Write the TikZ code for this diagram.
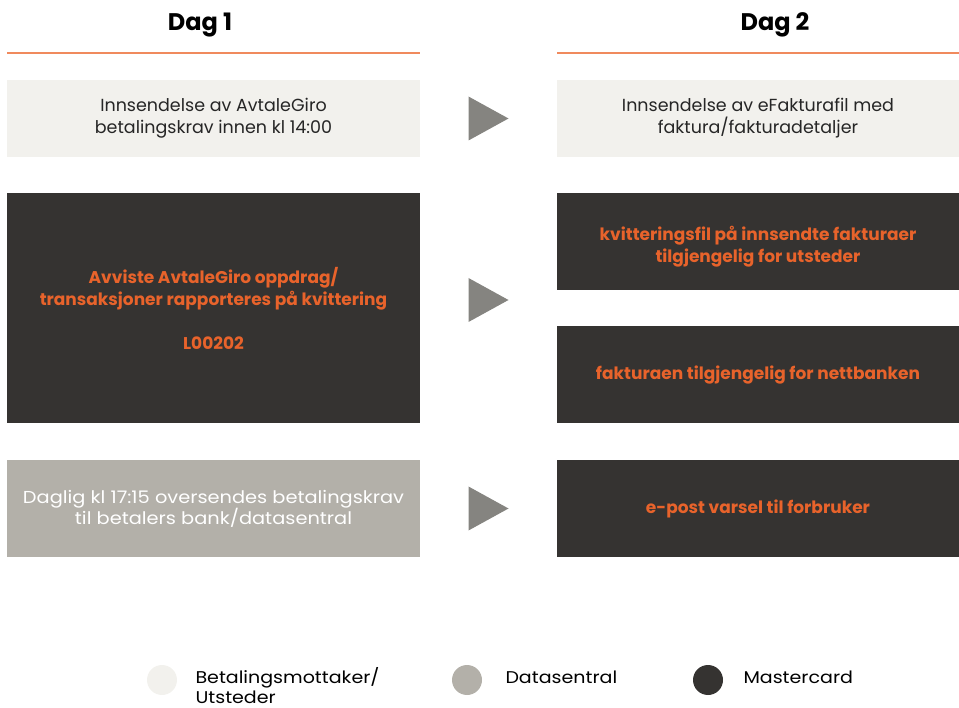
\documentclass[tikz,border=0pt]{standalone}
\usepackage{fontspec}
\setmainfont{Poppins}
\newfontfamily\widefont[FakeStretch=1.12]{Poppins}
\usetikzlibrary{calc}
\definecolor{mclight}{HTML}{F2F1ED}
\definecolor{mcgrey}{HTML}{B3B0A9}
\definecolor{mcdark}{HTML}{353331}
\definecolor{mcorange}{HTML}{E8632B}
\definecolor{mcline}{HTML}{F08A5D}
\definecolor{mcarrow}{HTML}{858480}
\begin{document}
\begin{tikzpicture}
			[x=1pt, y=-1pt,
			box/.style={minimum height=97pt, align=center, inner sep=0pt, font=\fontsize{17.5}{22}\selectfont},
			lbox/.style={box, fill=mclight, text=black!85, minimum width=413pt},
			rbox/.style={box, minimum width=402pt},
			dbox/.style={fill=mcdark, text=mcorange, font=\fontsize{17}{22}\selectfont\bfseries},
			gbox/.style={fill=mcgrey, text=white, font=\widefont\fontsize{17.3}{21}\selectfont},
			tri/.style={fill=mcarrow},
			dot/.style={circle, minimum size=30pt, inner sep=0pt},
			legend/.style={anchor=west, align=left, font=\widefont\fontsize{17}{20}\selectfont}]
			\useasboundingbox (0,0) rectangle (959,708);
			% headers
			\node[font=\fontsize{24}{26}\selectfont\bfseries] (d1) at (200,25) {Dag 1};
			\node[font=\fontsize{24}{26}\selectfont\bfseries] (d2) at (775,25) {Dag 2};
			\draw[mcline, line width=2pt] (7,53) -- (420,53);
			\draw[mcline, line width=2pt] (557,53) -- (959,53);
			% row 1
			\node[lbox, minimum height=77pt] (a1) at (213.5,118.5) {Innsendelse av AvtaleGiro\\betalingskrav innen kl 14:00};
			\node[rbox, lbox, minimum width=402pt, minimum height=77pt] (b1) at (758,118.5) {Innsendelse av eFakturafil med\\faktura/fakturadetaljer};
			% row 2
			\node[lbox, dbox, minimum height=230pt] (a2) at (213.5,308) {Avviste AvtaleGiro oppdrag/\\transaksjoner rapporteres på kvittering\\[22pt]L00202};
			\node[rbox, dbox] (b2) at (758,241.5) {\raisebox{-10pt}[0pt][0pt]{\parbox{402pt}{\centering kvitteringsfil på innsendte fakturaer\\tilgjengelig for utsteder}}};
			\node[rbox, dbox] (c2) at (758,375) {fakturaen tilgjengelig for nettbanken};
			% row 3
			\node[lbox, gbox] (a3) at (213.5,508.5) {Daglig kl 17:15 oversendes betalingskrav\\til betalers bank/datasentral};
			\node[rbox, dbox] (b3) at (758,508.5) {e-post varsel til forbruker};
			% arrows
			\coordinate (t1) at ($(a1.east)!0.5!(b1.west)$);
			\coordinate (t2) at ($(a2.east)!0.5!(b2.west |- a2.east)+(0,-8)$);
			\coordinate (t3) at ($(a3.east)!0.5!(b3.west)$);
			\foreach \t in {t1,t2,t3}
				\fill[tri] ($(\t)+(-20,-22)$) -- ++(40,22) -- ++(-40,22) -- cycle;
			% legend
			\node[dot, fill=mclight] (l1) at (162,680) {};
			\node[legend] (l1t) at (192,686) {Betalingsmottaker/\\Utsteder};
			\node[dot, fill=mcgrey] (l2) at (467,680) {};
			\node[legend] (l2t) at (502,677) {Datasentral};
			\node[dot, fill=mcdark] (l3) at (708,680) {};
			\node[legend] (l3t) at (740,677) {Mastercard};
			\end{tikzpicture}
\end{document}
